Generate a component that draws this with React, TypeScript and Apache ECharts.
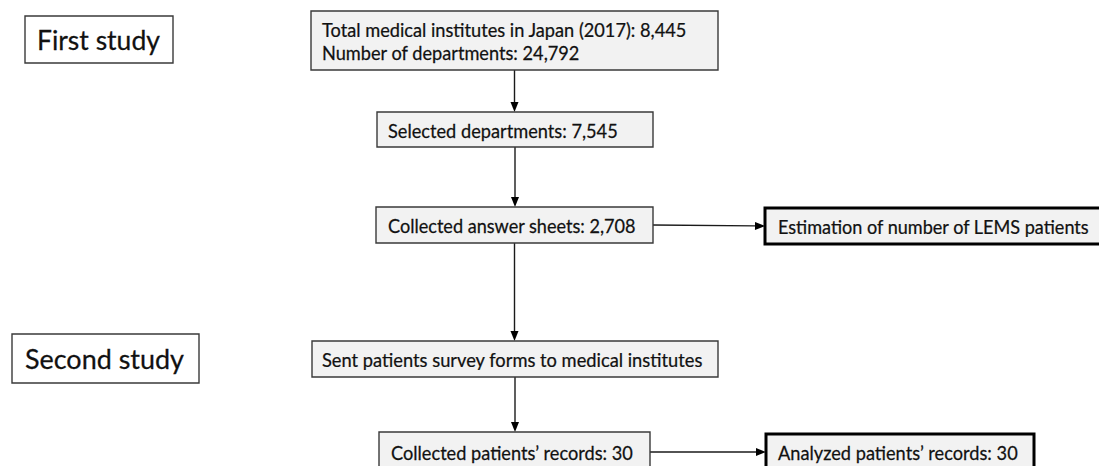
import React, { useEffect, useRef } from "react";
import * as echarts from "echarts";

// ---- content ----
const nodeIds = ["first", "total", "selected", "collected", "estimation", "second", "sent", "records", "analyzed"];
const nodeLines: string[][] = [
  ["First study"],
  ["Total medical institutes in Japan (2017): 8,445", "Number of departments: 24,792"],
  ["Selected departments: 7,545"],
  ["Collected answer sheets: 2,708"],
  ["Estimation of number of LEMS patients"],
  ["Second study"],
  ["Sent patients survey forms to medical institutes"],
  ["Collected patients\u2019 records: 30"],
  ["Analyzed patients\u2019 records: 30"],
];
const links: [string, string, "down" | "right"][] = [
  ["total", "selected", "down"],
  ["selected", "collected", "down"],
  ["collected", "estimation", "right"],
  ["collected", "sent", "down"],
  ["sent", "records", "down"],
  ["records", "analyzed", "right"],
];

// ---- layout (units of the hidden axes = page pixels) ----
type Kind = "label" | "step" | "result";
const layout: Record<string, { x0: number; y0: number; x1: number; y1: number; tx: number; tw: number[]; kind: Kind }> = {
  first: { x0: 25, y0: 16, x1: 173, y1: 63, tx: 37, tw: [123], kind: "label" },
  total: { x0: 311, y0: 11, x1: 718, y1: 70, tx: 322, tw: [365, 258], kind: "step" },
  selected: { x0: 377, y0: 112, x1: 653, y1: 147, tx: 388, tw: [230], kind: "step" },
  collected: { x0: 376, y0: 207, x1: 653, y1: 243, tx: 388, tw: [248], kind: "step" },
  estimation: { x0: 765, y0: 208, x1: 1112, y1: 244, tx: 778, tw: [312], kind: "result" },
  second: { x0: 12, y0: 334, x1: 199, y1: 383, tx: 25, tw: [159], kind: "label" },
  sent: { x0: 312, y0: 341, x1: 718, y1: 377, tx: 322, tw: [381], kind: "step" },
  records: { x0: 379, y0: 432, x1: 650, y1: 472, tx: 391, tw: [242], kind: "step" },
  analyzed: { x0: 766, y0: 434, x1: 1034, y1: 470, tx: 778, tw: [240], kind: "result" },
};

const FONT = "Lato, 'Open Sans', sans-serif";
const W = 1099;
const H = 466;

let measureCtx: CanvasRenderingContext2D | null = null;
function measure(text: string, size: number): number {
  if (!measureCtx) measureCtx = document.createElement("canvas").getContext("2d");
  if (!measureCtx) return text.length * size * 0.5;
  measureCtx.font = `${size}px ${FONT}`;
  return measureCtx.measureText(text).width;
}

export default function App() {
  const ref = useRef<HTMLDivElement>(null);
  useEffect(() => {
    if (!ref.current) return;
    const chart = echarts.init(ref.current, undefined, { renderer: "svg" });

    const boxRender = (params: any, api: any) => {
      const id = nodeIds[params.dataIndex];
      const L = layout[id];
      const lines = nodeLines[params.dataIndex];
      const p0 = api.coord([L.x0, L.y0]);
      const p1 = api.coord([L.x1, L.y1]);
      const isLabel = L.kind === "label";
      const thick = L.kind === "result";
      const size = isLabel ? 26 : 20;
      const lineGap = 23;
      const cy = (p0[1] + p1[1]) / 2 + 0.5;
      const children: any[] = [
        {
          type: "rect",
          shape: { x: p0[0], y: p0[1], width: p1[0] - p0[0], height: p1[1] - p0[1] },
          style: {
            fill: isLabel ? "#ffffff" : "#f2f2f2",
            stroke: thick ? "#000000" : "#3a3a3a",
            lineWidth: thick ? 3 : 1.4,
          },
        },
      ];
      lines.forEach((t, i) => {
        const tx = api.coord([L.tx, 0])[0];
        const tw = api.size([L.tw[i], 0])[0];
        const natural = measure(t, size);
        const sx = natural > 0 ? tw / natural : 1;
        const y = cy + (i - (lines.length - 1) / 2) * lineGap;
        children.push({
          type: "text",
          x: tx,
          y,
          scaleX: sx,
          style: {
            text: t,
            x: 0,
            y: 0,
            fill: "#111111",
            stroke: "#111111",
            lineWidth: 0.25,
            fontSize: size,
            fontFamily: FONT,
            align: "left",
            verticalAlign: "middle",
          },
        });
      });
      return { type: "group", children };
    };

    const arrowRender = (params: any, api: any) => {
      const [from, to, dir] = links[params.dataIndex];
      const A = layout[from];
      const B = layout[to];
      let s: number[];
      let e: number[];
      if (dir === "down") {
        const x = (A.x0 + A.x1) / 2;
        s = api.coord([x, A.y1]);
        e = api.coord([x, B.y0]);
      } else {
        s = api.coord([A.x1, (A.y0 + A.y1) / 2]);
        e = api.coord([B.x0, (B.y0 + B.y1) / 2]);
      }
      const dx = e[0] - s[0];
      const dy = e[1] - s[1];
      const len = Math.sqrt(dx * dx + dy * dy) || 1;
      const ux = dx / len;
      const uy = dy / len;
      const hl = 10;
      const hw = 4;
      const bx = e[0] - ux * hl;
      const by = e[1] - uy * hl;
      return {
        type: "group",
        children: [
          {
            type: "line",
            shape: { x1: s[0], y1: s[1], x2: bx, y2: by },
            style: { stroke: "#1a1a1a", lineWidth: 1.4 },
          },
          {
            type: "polygon",
            shape: {
              points: [
                [e[0], e[1]],
                [bx - uy * hw, by + ux * hw],
                [bx + uy * hw, by - ux * hw],
              ],
            },
            style: { fill: "#000000" },
          },
        ],
      };
    };

    chart.setOption({
      animation: false,
      backgroundColor: "#ffffff",
      grid: { left: 0, right: 0, top: 0, bottom: 0 },
      xAxis: { type: "value", min: 0, max: W, show: false },
      yAxis: { type: "value", min: 0, max: H, inverse: true, show: false },
      series: [
        {
          type: "custom",
          renderItem: arrowRender,
          data: links.map((_, i) => [i]),
          clip: false,
          silent: true,
        },
        {
          type: "custom",
          renderItem: boxRender,
          data: nodeIds.map((_, i) => [i]),
          clip: false,
          silent: true,
        },
      ],
    });
    return () => chart.dispose();
  }, []);
  return <div ref={ref} style={{ position: "fixed", left: 0, top: 0, width: W, height: H }} />;
}
